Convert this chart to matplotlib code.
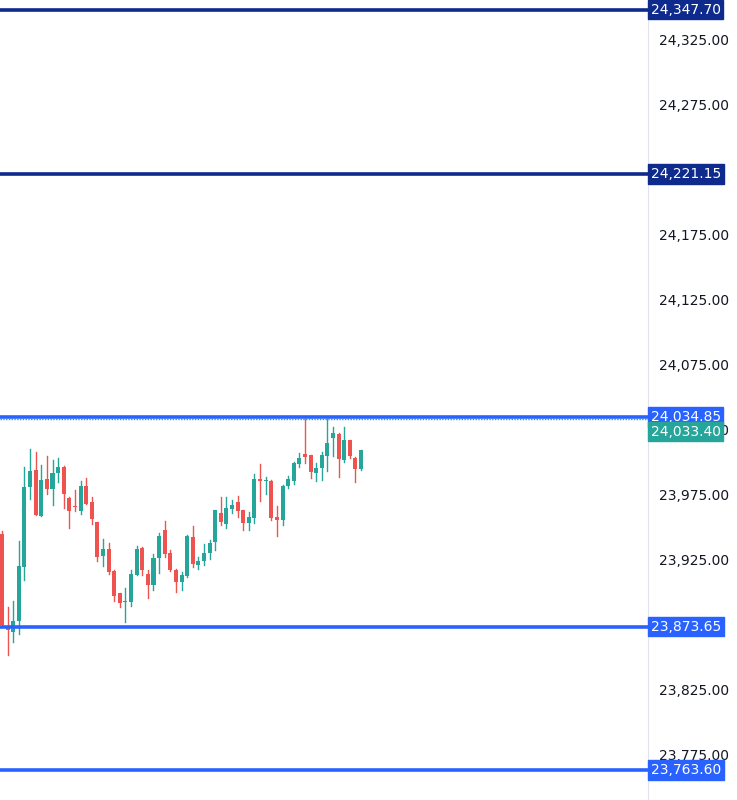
import matplotlib
matplotlib.use("Agg")
import matplotlib.pyplot as plt
from matplotlib.patches import Rectangle

opens = [23945,23874.1,23869.7,23877.9,23919.6,23980.6,23993.9,23958.8,23986.7,23979.1,
         23991.3,23996.5,23972.7,23966.2,23962.7,23981.6,23969.1,23953.7,23928.1,23933.0,
         23916.6,23899.2,23892.2,23892.2,23913.2,23933.7,23913.8,23905.6,23926.0,23947.8,
         23930.4,23917.1,23908.1,23912.5,23942.7,23920.9,23924.3,23930.4,23938.3,23960.6,
         23952.4,23964.0,23969.1,23963.2,23952.9,23956.8,23986.7,23985.5,23985.7,23958.1,
         23955.5,23981.6,23985.7,23998.3,24005.9,24005.4,23991.3,23995.2,24004.9,24018.7,
         24021.6,24001.6,24017.0,24003.4,23994.4]
highs = [23947,23888.9,23893.5,23939.6,23996.0,24009.8,24008.0,23997.7,24004.7,24001.6,
         24003.4,23997,23973,23978.5,23985.7,23987.5,23973.4,23954,23940.6,23937.6,
         23917,23899.5,23903.0,23917.1,23935.5,23935.0,23917.1,23929.1,23945.8,23954.7,
         23932.4,23917.5,23915.8,23944.0,23950.9,23927.3,23936.8,23940.1,23963.5,23972.9,
         23973.4,23970.9,23973.9,23963.5,23961.9,23990.8,23998.3,23988.8,23986,23966.5,
         23982.4,23989.3,23999.8,24007.2,24032.8,24005.6,23999.5,24008.0,24032.8,24027.2,
         24022,24027.2,24017.3,24003.6,24009.5]
lows = [23874,23851.8,23862.0,23867.9,23909.4,23971.4,23959,23958.5,23975.5,23967.0,
        23984.9,23964.5,23949.1,23962.7,23960.1,23967.5,23952.2,23924.3,23920.2,23913.8,
        23893.5,23888.9,23877.4,23889.4,23913,23913.2,23895.8,23901.7,23915.0,23926.8,
        23916.3,23900.4,23901.7,23912.0,23919.6,23917.6,23920.9,23925.3,23932.4,23951.7,
        23949.1,23960.6,23957.5,23947.8,23947.8,23952.9,23970.3,23975.5,23955.5,23943.2,
        23951.7,23980.3,23983.2,23996.5,23999.5,23987.5,23985.7,23986.2,23993.1,24004.7,
        23988.3,24000.3,24002.9,23984.9,23994]
closes = [23875,23871.0,23877.9,23920.4,23980.6,23993.4,23959.3,23986.2,23979.1,23991.3,
          23996.0,23975.2,23962.7,23965.7,23981.6,23967.8,23956.0,23927.3,23933.5,23915.8,
          23897.1,23892.0,23893.5,23914.0,23933.0,23917.1,23905.6,23926.6,23943.2,23929.4,
          23917.1,23908.1,23913.2,23943.5,23921.7,23924.3,23930.4,23938.1,23963.2,23953.7,
          23964.5,23967.0,23962.7,23952.9,23957.5,23986.7,23985.5,23986.2,23956.8,23955.5,
          23981.6,23986.7,23999.5,24003.4,24004.1,23992.6,23995.7,24005.4,24014.4,24022.6,
          24002.4,24017.0,24004.9,23994.4,24009.3]

level_prices = [24347.70, 24221.15, 24034.85, 23873.65, 23763.60]
level_labels = ["24,347.70", "24,221.15", "24,034.85", "23,873.65", "23,763.60"]
level_colors = ["#0e2a8c", "#0e2a8c", "#2962ff", "#2962ff", "#2962ff"]
last_price = 24033.40
last_label = "24,033.40"
tick_values = [24325, 24275, 24175, 24125, 24075, 24025, 23975, 23925, 23825, 23775]

UP, DN = "#26a69a", "#ef5350"

fig = plt.figure(figsize=(7.37, 8.0), dpi=100)
ax = fig.add_axes([0, 0, 648/737, 1])
ax.set_xlim(-0.36, -0.36 + 648/5.61)
ax.set_ylim(23740.4, 24355)

for i, (o, h, l, c) in enumerate(zip(opens, highs, lows, closes)):
    col = UP if c >= o else DN
    ax.plot([i, i], [l, h], color=col, lw=1, zorder=2)
    b = min(o, c); hgt = max(abs(c - o), 0.8)
    ax.add_patch(Rectangle((i - 0.36, b), 0.72, hgt, color=col, zorder=3, lw=0))

for p, col in zip(level_prices, level_colors):
    ax.axhline(p, color=col, lw=2.6, zorder=4)
ax.axhline(last_price, color=UP, lw=1, ls=(0, (1, 1)), zorder=4)

for s in ["top", "left", "bottom"]:
    ax.spines[s].set_visible(False)
ax.spines["right"].set_color("#e0e3eb")
ax.set_xticks([])
ax.yaxis.tick_right()
ax.set_yticks(tick_values)
ax.set_yticklabels([f"{v:,.2f}" for v in tick_values])
ax.tick_params(axis="y", length=0, pad=8, labelsize=10, labelcolor="#131722")

for p, lab, col in zip(level_prices, level_labels, level_colors):
    ax.text(1.004, p, lab, transform=ax.get_yaxis_transform(), va="center", ha="left",
            color="white", fontsize=10, zorder=10,
            bbox=dict(boxstyle="square,pad=0.2", fc=col, ec=col))
ax.text(1.004, last_price - 10, last_label, transform=ax.get_yaxis_transform(), va="center",
        ha="left", color="white", fontsize=10, zorder=11,
        bbox=dict(boxstyle="square,pad=0.2", fc=UP, ec=UP))

fig.savefig("out.png", dpi=100)
